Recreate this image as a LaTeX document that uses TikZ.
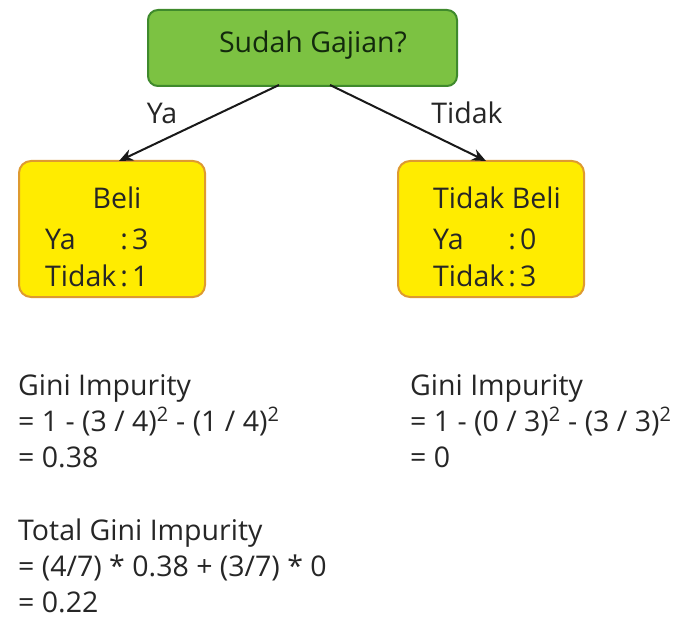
\documentclass[tikz,border=0pt]{standalone}
\usepackage{fontspec}
\setmainfont{Open Sans}
\usetikzlibrary{arrows.meta}
\definecolor{leafgreen}{HTML}{7CC242}
\definecolor{leafedge}{HTML}{3F8A2C}
\definecolor{sunyellow}{HTML}{FFEC00}
\definecolor{sunedge}{HTML}{DE9A30}
\definecolor{inktext}{HTML}{262626}
\newcommand{\ColonRow}[2]{\rlap{#1}\phantom{Tidak}\kern4pt:\kern4pt#2}
\tikzset{
  rootbox/.style={draw=leafedge, fill=leafgreen, line width=2pt, rounded corners=10pt,
    minimum width=309pt, minimum height=76pt, anchor=north west, inner sep=0pt},
  leafbox/.style={draw=sunedge, fill=sunyellow, line width=2pt, rounded corners=12pt,
    minimum width=186pt, minimum height=136pt, anchor=north west, inner sep=0pt},
  txt/.style={font=\fontsize{28.5}{32}\selectfont, text=inktext, inner sep=0pt},
  line/.style={anchor=base west, txt},
  edge/.style={draw=black!90, line width=2pt, -{Stealth[length=14pt,width=12pt]}},
}
\begin{document}
\begin{tikzpicture}[x=1pt,y=-1pt]
\useasboundingbox (0,0) rectangle (679,620);

% decision node and its two outcomes
\node[rootbox] (root) at (147,9) {};
\node[txt, text=black!70!leafedge, anchor=center] (q) at (313,45) {Sudah Gajian?};

\node[leafbox] (left) at (18,160) {};
\node[leafbox] (right) at (397,160) {};

% contents of the leaves
\node[txt, anchor=base] (lt) at (117,208) {Beli};
\node[line] (la) at (45,249) {\ColonRow{Ya}{3}};
\node[line] (lb) at (45,286) {\ColonRow{Tidak}{1}};

\node[line] (rt) at (433,208) {Tidak Beli};
\node[line] (ra) at (433,249) {\ColonRow{Ya}{0}};
\node[line] (rb) at (433,286) {\ColonRow{Tidak}{3}};

% branches
\coordinate (rootL) at (279,85);
\coordinate (rootR) at (330,85);
\coordinate (leftTop) at (119,161);
\coordinate (rightTop) at (486,161);
\draw[edge] (rootL) -- (leftTop);
\draw[edge] (rootR) -- (rightTop);
\node[txt, anchor=center] (yes) at (162,113) {Ya};
\node[txt, anchor=center] (no) at (467,113) {Tidak};

% impurity of each leaf
\node[line] (g1) at (18,395) {Gini Impurity};
\node[line] (g2) at (18,431) {= 1 - (3 / 4)\textsuperscript{2} - (1 / 4)\textsuperscript{2}};
\node[line] (g3) at (18,467) {= 0.38};

\node[line] (h1) at (410,395) {Gini Impurity};
\node[line] (h2) at (410,431) {= 1 - (0 / 3)\textsuperscript{2} - (3 / 3)\textsuperscript{2}};
\node[line] (h3) at (410,467) {= 0};

% weighted total
\node[line] (t1) at (18,540) {Total Gini Impurity};
\node[line] (t2) at (18,576) {= (4/7) * 0.38 + (3/7) * 0};
\node[line] (t3) at (18,612) {= 0.22};
\end{tikzpicture}
\end{document}
